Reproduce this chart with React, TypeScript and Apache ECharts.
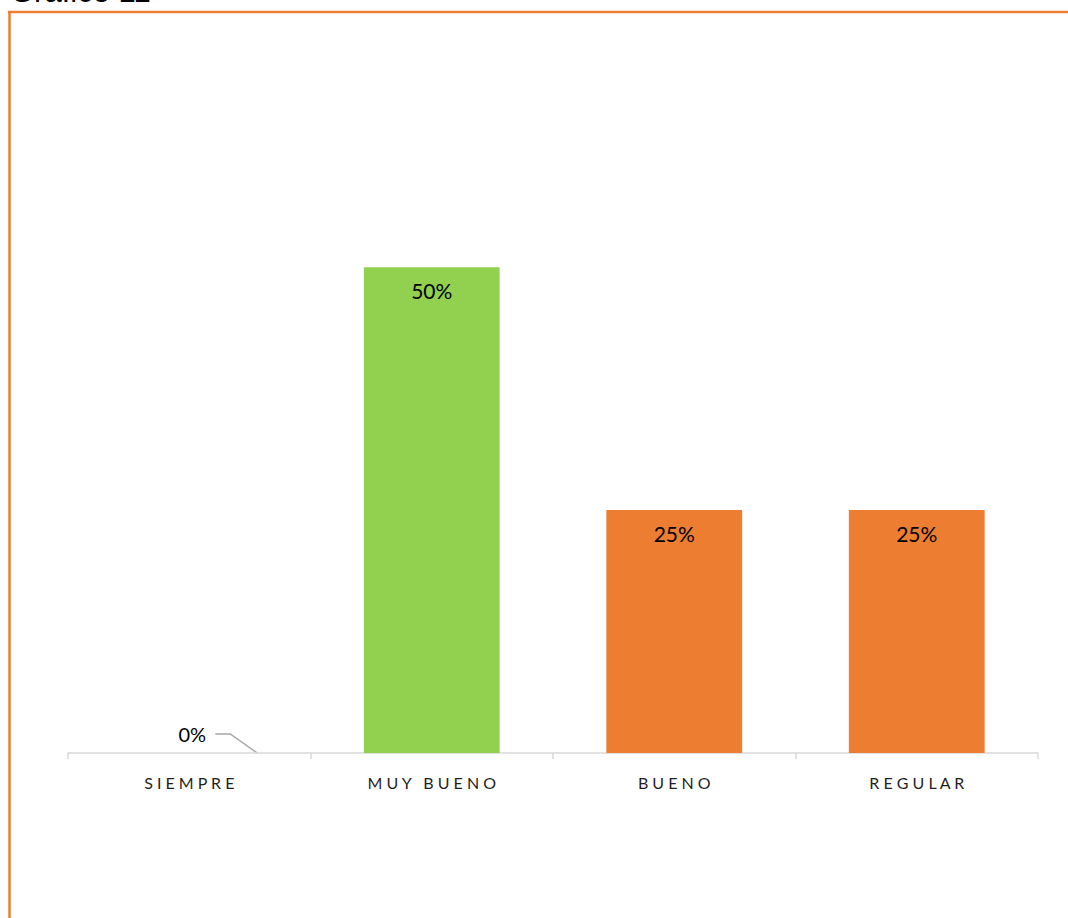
import React, { useEffect, useRef } from "react";
import * as echarts from "echarts";

const categories = ["SIEMPRE", "MUY BUENO", "BUENO", "REGULAR"];
const values = [0, 0.5, 0.25, 0.25];
const barColors = ["#92D050", "#92D050", "#ED7D31", "#ED7D31"];
const titleText = "Gráfico 11";

const spaced = (s: string) => s.split("").join(" ");

export default function App() {
  const ref = useRef<HTMLDivElement>(null);
  useEffect(() => {
    document.body.style.margin = "0";
    const chart = echarts.init(ref.current!, null, { renderer: "svg" });
    chart.setOption({
      animation: false,
      backgroundColor: "#ffffff",
      grid: { left: 68, right: 30, top: 170, bottom: 165 },
      xAxis: {
        type: "category",
        data: categories,
        axisLine: { lineStyle: { color: "#D9D9D9", width: 1.5 } },
        axisTick: { show: true, length: 6, lineStyle: { color: "#D9D9D9", width: 1.5 } },
        axisLabel: {
          margin: 21,
          color: "#1F1F1F",
          fontSize: 16,
          fontFamily: "Lato, 'Open Sans', sans-serif",
          formatter: (v: string) => spaced(v),
        },
      },
      yAxis: {
        type: "value",
        min: 0,
        max: 0.6,
        show: false,
        splitLine: { show: false },
      },
      series: [
        {
          type: "bar",
          barWidth: "56%",
          data: values.map((v, i) => ({
            value: v,
            itemStyle: { color: barColors[i] },
            label:
              v === 0
                ? { position: "top", distance: 5, offset: [3, -4], color: "#000", fontSize: 20 }
                : undefined,
          })),
          label: {
            show: true,
            position: "insideTop",
            distance: 13,
            color: "#000000",
            fontSize: 21,
            fontFamily: "Lato, 'Open Sans', sans-serif",
            formatter: (p: any) => Math.round(p.value * 100) + "%",
          },
        },
      ],
    });

    const p0 = chart.convertToPixel({ gridIndex: 0 }, [categories[0], values[0]]) as number[];
    const pNext = chart.convertToPixel({ gridIndex: 0 }, [categories[1], values[0]]) as number[];
    const halfBar = ((pNext[0] - p0[0]) * 0.56) / 2;
    const bx = p0[0];
    const by = p0[1];

    chart.setOption({
      graphic: [
        {
          type: "text",
          left: 10,
          top: -24,
          style: {
            text: titleText,
            fontSize: 31,
            fontFamily: "'Liberation Sans', Arial, sans-serif",
            fill: "#000000",
          },
        },
        {
          type: "polyline",
          shape: {
            points: [
              [bx + 26, by - 19],
              [bx + 41, by - 19],
              [bx + halfBar, by],
            ],
          },
          style: { stroke: "#A6A6A6", lineWidth: 1.5, fill: null },
        },
        {
          type: "line",
          shape: { x1: 8, y1: 12, x2: 1068, y2: 12 },
          style: { stroke: "#ED7D31", lineWidth: 2.5 },
        },
        {
          type: "line",
          shape: { x1: 9.5, y1: 11, x2: 9.5, y2: 918 },
          style: { stroke: "#ED7D31", lineWidth: 2.5 },
        },
      ],
    });
    return () => chart.dispose();
  }, []);
  return <div ref={ref} style={{ width: 1068, height: 918 }} />;
}
